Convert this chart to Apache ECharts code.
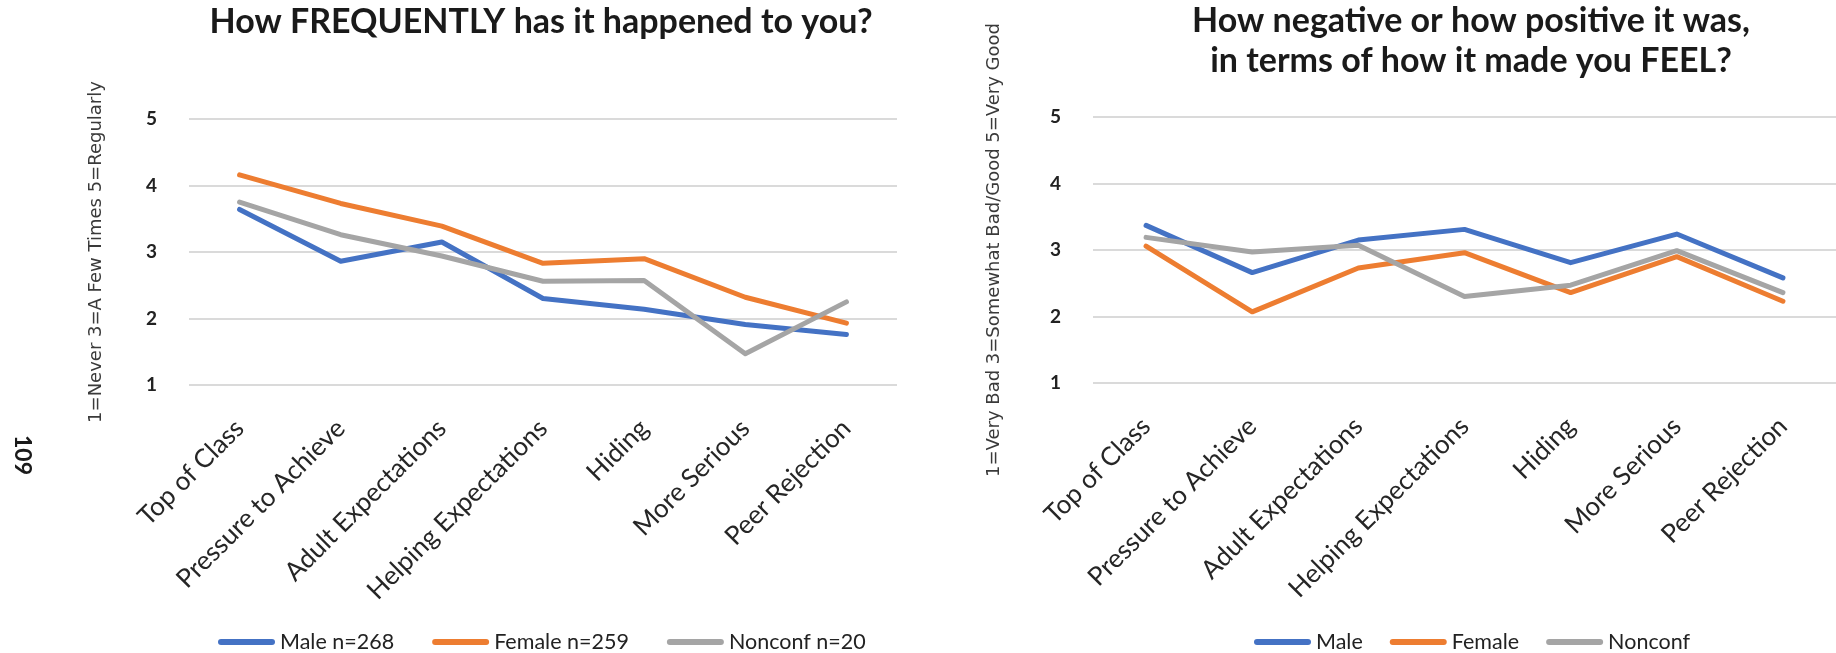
<!DOCTYPE html>
<html>
<head>
<meta charset="utf-8">
<title>Experiences by gender</title>
<script src="https://cdn.jsdelivr.net/npm/echarts@6/dist/echarts.min.js"></script>
<style>
  html, body { margin: 0; padding: 0; background: #ffffff; }
  #chart { width: 1836px; height: 653px; }
</style>
</head>
<body>
<div id="chart"></div>
<script>
// Categories shared by both panels
const categories = ['Top of Class', 'Pressure to Achieve', 'Adult Expectations',
  'Helping Expectations', 'Hiding', 'More Serious', 'Peer Rejection'];

// Left panel: how frequently it happened (1 = Never, 3 = A Few Times, 5 = Regularly)
const freqMale = [3.64, 2.86, 3.15, 2.30, 2.14, 1.91, 1.76];
const freqFemale = [4.16, 3.73, 3.39, 2.83, 2.90, 2.32, 1.93];
const freqNonconf = [3.75, 3.26, 2.94, 2.56, 2.57, 1.47, 2.25];

// Right panel: how it made you feel (1 = Very Bad, 3 = Somewhat Bad/Good, 5 = Very Good)
const feelMale = [3.37, 2.66, 3.15, 3.31, 2.81, 3.24, 2.58];
const feelFemale = [3.06, 2.07, 2.73, 2.96, 2.36, 2.90, 2.23];
const feelNonconf = [3.19, 2.97, 3.07, 2.30, 2.47, 2.99, 2.36];

const freqNames = ['Male n=268', 'Female n=259', 'Nonconf n=20'];
const feelNames = ['Male', 'Female', 'Nonconf'];

const freqTitle = 'How FREQUENTLY has it happened to you?';
const feelTitle = 'How negative or how positive it was,\nin terms of how it made you FEEL?';
const freqAxisName = '1=Never 3=A Few Times 5=Regularly';
const feelAxisName = '1=Very Bad 3=Somewhat Bad/Good 5=Very Good';
const pageNumber = '109';

const yTicks = { min: 1, max: 5, interval: 1 };

const colors = ['#4472C4', '#ED7D31', '#A5A5A5'];
const capsule = 'path://M3,0 H54 A3,3 0 0 1 54,6 H3 A3,3 0 0 1 3,0 Z';

function xAxisFor(i) {
  return {
    type: 'category', gridIndex: i, data: categories, boundaryGap: true,
    axisLine: { show: false }, axisTick: { show: false },
    axisLabel: {
      rotate: 45, interval: 0, margin: 39,
      fontFamily: 'Lato', fontSize: 26, color: '#262626'
    }
  };
}

function yAxisFor(i, name, gap) {
  return {
    type: 'value', gridIndex: i, min: yTicks.min, max: yTicks.max, interval: yTicks.interval,
    name: name, nameLocation: 'middle', nameGap: gap,
    nameTextStyle: { fontFamily: 'DejaVu Sans', fontSize: 18, color: '#3a3a3a' },
    axisLine: { show: false }, axisTick: { show: false },
    axisLabel: { margin: 32, fontFamily: 'Lato', fontWeight: 'bold', fontSize: 19, color: '#222222' },
    splitLine: { lineStyle: { color: '#DADADA', width: 2 } }
  };
}

function lineSeries(name, data, idx, color) {
  return {
    type: 'line', name: name, data: data, xAxisIndex: idx, yAxisIndex: idx,
    color: color, symbol: 'none',
    lineStyle: { width: 5, color: color, cap: 'round', join: 'round' }
  };
}

const legendBase = {
  top: 626, itemWidth: 57, itemHeight: 6, icon: capsule,
  textStyle: { fontFamily: 'Lato', fontSize: 21.5, color: '#222222' }
};

const option = {
  animation: false,
  backgroundColor: '#ffffff',
  grid: [
    { left: 189, right: 939, top: 119, bottom: 268 },
    { left: 1093, right: -14, top: 117, bottom: 270 }
  ],
  xAxis: [xAxisFor(0), xAxisFor(1)],
  yAxis: [yAxisFor(0, freqAxisName, 84), yAxisFor(1, feelAxisName, 90)],
  legend: [
    Object.assign({}, legendBase, { data: freqNames, left: 213, itemGap: 38 }),
    Object.assign({}, legendBase, { data: feelNames, left: 1249, itemGap: 27 })
  ],
  series: [
    lineSeries(freqNames[0], freqMale, 0, colors[0]),
    lineSeries(freqNames[1], freqFemale, 0, colors[1]),
    lineSeries(freqNames[2], freqNonconf, 0, colors[2]),
    lineSeries(feelNames[0], feelMale, 1, colors[0]),
    lineSeries(feelNames[1], feelFemale, 1, colors[1]),
    lineSeries(feelNames[2], feelNonconf, 1, colors[2])
  ],
  graphic: [
    {
      type: 'text', x: 541, y: 22,
      style: { text: freqTitle, textAlign: 'center', textVerticalAlign: 'middle',
        fontFamily: 'Lato', fontWeight: 'bold', fontSize: 34, fill: '#1a1a1a' }
    },
    {
      type: 'text', x: 1471, y: 41,
      style: { text: feelTitle, textAlign: 'center', textVerticalAlign: 'middle',
        lineHeight: 40, fontFamily: 'Lato', fontWeight: 'bold', fontSize: 34, fill: '#1a1a1a' }
    },
    {
      type: 'text', x: 22, y: 455, rotation: -Math.PI / 2,
      style: { text: pageNumber, textAlign: 'center', textVerticalAlign: 'middle',
        fontFamily: 'Lato', fontWeight: 'bold', fontSize: 23, fill: '#1a1a1a' }
    }
  ]
};

const chart = echarts.init(document.getElementById('chart'), null, { renderer: 'canvas' });
chart.setOption(option);
</script>
</body>
</html>
